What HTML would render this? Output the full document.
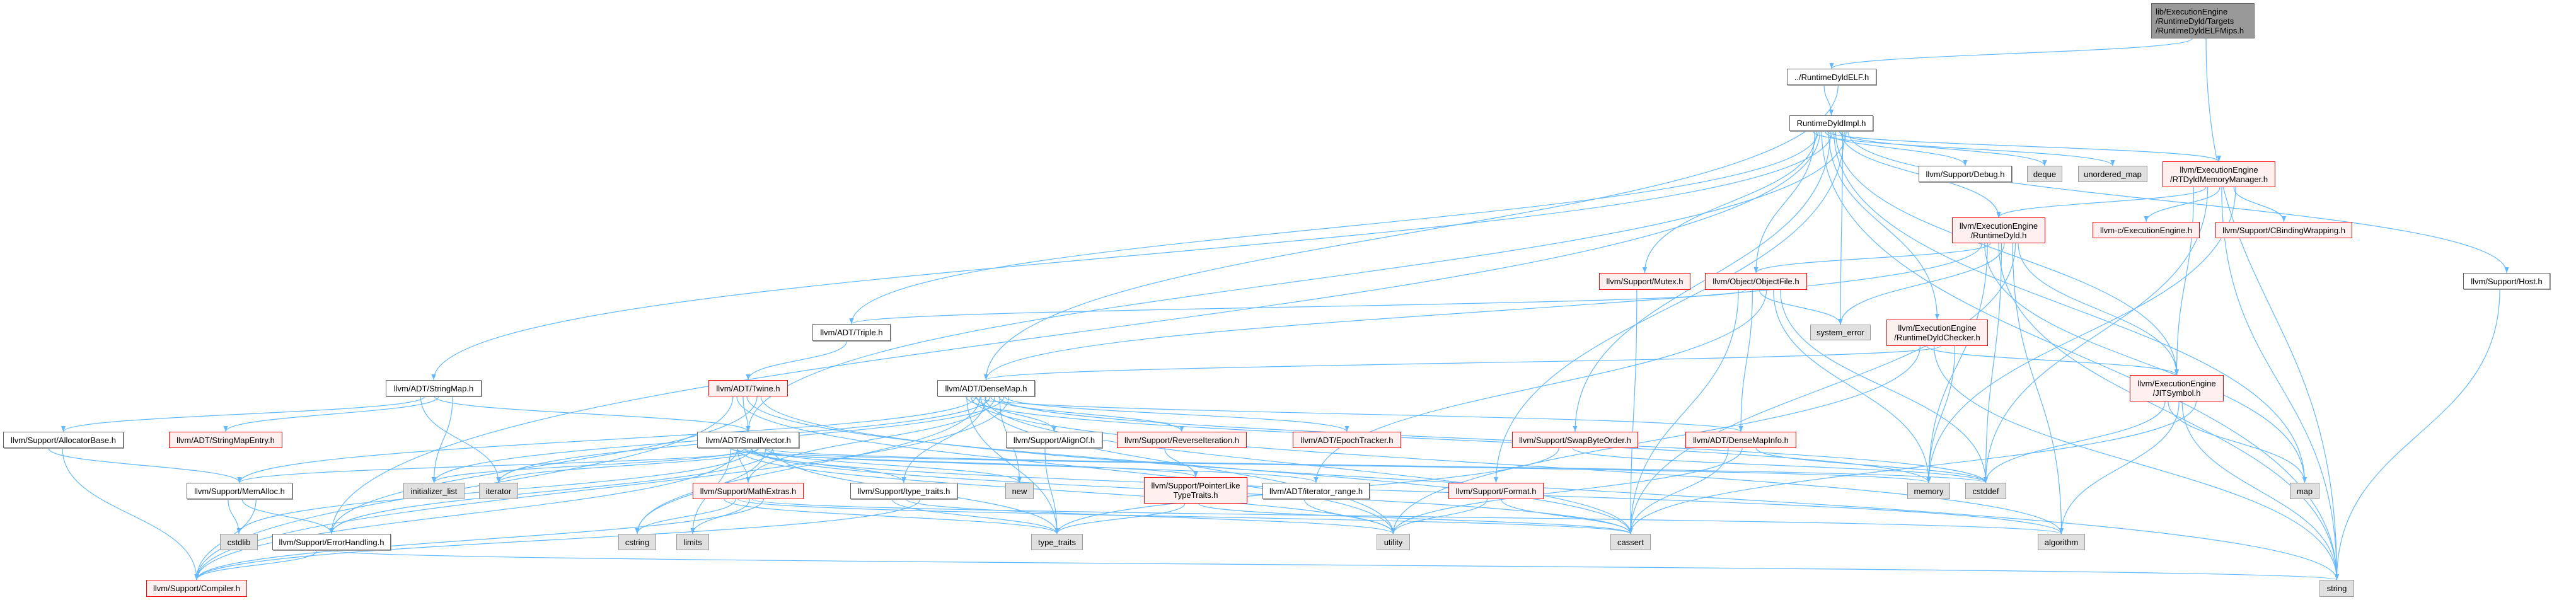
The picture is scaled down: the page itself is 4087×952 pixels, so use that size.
<!DOCTYPE html>
<html><head><meta charset="utf-8">
<style>
html,body{margin:0;padding:0;background:#fff;}
#wrap{position:relative;width:4087px;height:952px;overflow:hidden;background:#fff;}
svg{position:absolute;left:0;top:0;}
.n{position:absolute;box-sizing:border-box;display:flex;align-items:center;justify-content:center;text-align:center;font-family:"Liberation Sans",Arial,sans-serif;font-size:13px;line-height:15px;color:#000;white-space:nowrap;}
.w{background:#fff;border:1px solid #666;box-shadow:1px 1px 0 #999;}
.r{background:#fff0f0;border:1.5px solid #f00;}
.g{background:#e0e0e0;border:1px solid #999;}
.root{background:#999;border:1px solid #666;justify-content:flex-start;text-align:left;padding-left:6px;}
</style></head><body>
<div id="wrap">
<svg id="edges" width="4087" height="952" xmlns="http://www.w3.org/2000/svg">
<defs><marker id="a" viewBox="0 0 10 10" refX="10" refY="5" markerWidth="9" markerHeight="9" orient="auto" markerUnits="userSpaceOnUse"><path d="M0,1 L10,5 L0,9 z" fill="#63b8ff"/></marker></defs>
<g id="eg" fill="none" stroke="#63b8ff" stroke-width="1.2"></g>
</svg>
<div class="n root" style="left:3413px;top:5px;width:164px;height:56px;">lib/ExecutionEngine<br>/RuntimeDyld/Targets<br>/RuntimeDyldELFMips.h</div>
<div class="n w" style="left:2835px;top:109px;width:142px;height:26px;">../RuntimeDyldELF.h</div>
<div class="n w" style="left:2839px;top:183px;width:133px;height:25px;">RuntimeDyldImpl.h</div>
<div class="n w" style="left:3044px;top:263px;width:148px;height:26px;">llvm/Support/Debug.h</div>
<div class="n g" style="left:3216px;top:263px;width:56px;height:26px;">deque</div>
<div class="n g" style="left:3297px;top:263px;width:110px;height:26px;">unordered_map</div>
<div class="n r" style="left:3431px;top:256px;width:179px;height:41px;">llvm/ExecutionEngine<br>/RTDyldMemoryManager.h</div>
<div class="n r" style="left:3097px;top:345px;width:148px;height:41px;">llvm/ExecutionEngine<br>/RuntimeDyld.h</div>
<div class="n r" style="left:3320px;top:352px;width:170px;height:26px;">llvm-c/ExecutionEngine.h</div>
<div class="n r" style="left:3515px;top:352px;width:217px;height:26px;">llvm/Support/CBindingWrapping.h</div>
<div class="n w" style="left:3908px;top:433px;width:138px;height:26px;">llvm/Support/Host.h</div>
<div class="n r" style="left:2537px;top:433px;width:145px;height:27px;">llvm/Support/Mutex.h</div>
<div class="n r" style="left:2705px;top:433px;width:162px;height:27px;">llvm/Object/ObjectFile.h</div>
<div class="n g" style="left:2872px;top:515px;width:96px;height:25px;">system_error</div>
<div class="n r" style="left:2993px;top:507px;width:161px;height:42px;">llvm/ExecutionEngine<br>/RuntimeDyldChecker.h</div>
<div class="n w" style="left:1289px;top:514px;width:124px;height:27px;">llvm/ADT/Triple.h</div>
<div class="n w" style="left:612px;top:603px;width:152px;height:26px;">llvm/ADT/StringMap.h</div>
<div class="n r" style="left:1124px;top:603px;width:126px;height:26px;">llvm/ADT/Twine.h</div>
<div class="n w" style="left:1487px;top:603px;width:155px;height:26px;">llvm/ADT/DenseMap.h</div>
<div class="n r" style="left:3379px;top:595px;width:149px;height:42px;">llvm/ExecutionEngine<br>/JITSymbol.h</div>
<div class="n w" style="left:5px;top:685px;width:191px;height:26px;">llvm/Support/AllocatorBase.h</div>
<div class="n r" style="left:268px;top:685px;width:180px;height:26px;">llvm/ADT/StringMapEntry.h</div>
<div class="n w" style="left:1106px;top:685px;width:162px;height:26px;">llvm/ADT/SmallVector.h</div>
<div class="n w" style="left:1596px;top:685px;width:153px;height:26px;">llvm/Support/AlignOf.h</div>
<div class="n r" style="left:1772px;top:685px;width:206px;height:26px;">llvm/Support/ReverseIteration.h</div>
<div class="n r" style="left:2051px;top:685px;width:172px;height:26px;">llvm/ADT/EpochTracker.h</div>
<div class="n r" style="left:2399px;top:685px;width:200px;height:26px;">llvm/Support/SwapByteOrder.h</div>
<div class="n r" style="left:2674px;top:685px;width:176px;height:26px;">llvm/ADT/DenseMapInfo.h</div>
<div class="n w" style="left:296px;top:766px;width:168px;height:26px;">llvm/Support/MemAlloc.h</div>
<div class="n g" style="left:640px;top:766px;width:97px;height:26px;">initializer_list</div>
<div class="n g" style="left:760px;top:766px;width:62px;height:26px;">iterator</div>
<div class="n r" style="left:1099px;top:766px;width:176px;height:26px;">llvm/Support/MathExtras.h</div>
<div class="n w" style="left:1349px;top:766px;width:170px;height:26px;">llvm/Support/type_traits.h</div>
<div class="n g" style="left:1595px;top:766px;width:45px;height:26px;">new</div>
<div class="n r" style="left:1815px;top:757px;width:164px;height:42px;">llvm/Support/PointerLike<br>TypeTraits.h</div>
<div class="n w" style="left:2003px;top:766px;width:170px;height:26px;">llvm/ADT/iterator_range.h</div>
<div class="n r" style="left:2298px;top:766px;width:151px;height:26px;">llvm/Support/Format.h</div>
<div class="n g" style="left:3026px;top:766px;width:68px;height:26px;">memory</div>
<div class="n g" style="left:3118px;top:766px;width:65px;height:26px;">cstddef</div>
<div class="n g" style="left:3633px;top:766px;width:47px;height:26px;">map</div>
<div class="n g" style="left:349px;top:847px;width:60px;height:26px;">cstdlib</div>
<div class="n w" style="left:432px;top:847px;width:188px;height:26px;">llvm/Support/ErrorHandling.h</div>
<div class="n g" style="left:981px;top:847px;width:60px;height:26px;">cstring</div>
<div class="n g" style="left:1073px;top:847px;width:52px;height:26px;">limits</div>
<div class="n g" style="left:1636px;top:847px;width:82px;height:26px;">type_traits</div>
<div class="n g" style="left:2184px;top:847px;width:53px;height:26px;">utility</div>
<div class="n g" style="left:2555px;top:847px;width:64px;height:26px;">cassert</div>
<div class="n g" style="left:3233px;top:847px;width:75px;height:26px;">algorithm</div>
<div class="n r" style="left:232px;top:920px;width:160px;height:27px;">llvm/Support/Compiler.h</div>
<div class="n g" style="left:3680px;top:920px;width:55px;height:27px;">string</div>
</div>
<script>
var N={root:[3413,3577,5,61],elf:[2835,2977,109,135],impl:[2839,2972,183,208],debug:[3044,3192,263,289],deque:[3216,3272,263,289],umap:[3297,3407,263,289],rtdmm:[3431,3610,256,297],rdyld:[3097,3245,345,386],cee:[3320,3490,352,378],cbw:[3515,3732,352,378],host:[3908,4046,433,459],mutex:[2537,2682,433,460],objf:[2705,2867,433,460],syserr:[2872,2968,515,540],rdc:[2993,3154,507,549],triple:[1289,1413,514,541],strmap:[612,764,603,629],twine:[1124,1250,603,629],dmap:[1487,1642,603,629],jit:[3379,3528,595,637],allocb:[5,196,685,711],sme:[268,448,685,711],svec:[1106,1268,685,711],alignof:[1596,1749,685,711],revit:[1772,1978,685,711],epoch:[2051,2223,685,711],swap:[2399,2599,685,711],dmi:[2674,2850,685,711],memalloc:[296,464,766,792],initl:[640,737,766,792],iter:[760,822,766,792],mathx:[1099,1275,766,792],tth:[1349,1519,766,792],"new":[1595,1640,766,792],plt:[1815,1979,757,799],itr:[2003,2173,766,792],format:[2298,2449,766,792],memory:[3026,3094,766,792],cstddef:[3118,3183,766,792],map:[3633,3680,766,792],cstdlib:[349,409,847,873],errh:[432,620,847,873],cstring:[981,1041,847,873],limits:[1073,1125,847,873],tt:[1636,1718,847,873],utility:[2184,2237,847,873],cassert:[2555,2619,847,873],algo:[3233,3308,847,873],compiler:[232,392,920,947],string:[3680,3735,920,947]};
var E=[["root","elf"],["root","string"],["elf","impl"],["elf","dmap"],
["impl","debug"],["impl","deque"],["impl","umap"],["impl","rtdmm"],["impl","rdyld"],["impl","objf"],["impl","rdc"],["impl","syserr"],["impl","mutex"],["impl","swap"],["impl","format"],["impl","triple"],["impl","strmap"],["impl","svec"],["impl","errh"],["impl","map"],["impl","host"],["impl","string"],["impl","jit"],
["rtdmm","rdyld"],["rtdmm","cee"],["rtdmm","cbw"],["rtdmm","jit"],["rtdmm","cstddef"],["rtdmm","string"],["rtdmm","memory"],
["rdyld","objf"],["rdyld","syserr"],["rdyld","jit"],["rdyld","memory"],["rdyld","cstddef"],["rdyld","cassert"],["rdyld","map"],["rdyld","string"],["rdyld","algo"],["rdyld","dmap"],
["objf","triple"],["objf","syserr"],["objf","memory"],["objf","cassert"],["objf","dmi"],["objf","itr"],["objf","cstddef"],
["rdc","jit"],["rdc","dmap"],["rdc","memory"],["rdc","utility"],["rdc","string"],
["jit","map"],["jit","string"],["jit","cassert"],["jit","cstddef"],["jit","algo"],
["mutex","cassert"],["triple","twine"],
["twine","svec"],["twine","errh"],["twine","compiler"],["twine","cassert"],["twine","string"],["twine","utility"],
["strmap","allocb"],["strmap","sme"],["strmap","initl"],["strmap","iter"],["strmap","svec"],
["allocb","memalloc"],["allocb","compiler"],["memalloc","cstdlib"],["memalloc","errh"],["memalloc","compiler"],["errh","compiler"],["errh","string"],
["dmap","alignof"],["dmap","revit"],["dmap","epoch"],["dmap","dmi"],["dmap","tth"],["dmap","new"],["dmap","tt"],["dmap","utility"],["dmap","mathx"],["dmap","compiler"],["dmap","memalloc"],["dmap","initl"],["dmap","iter"],["dmap","algo"],["dmap","cassert"],["dmap","cstddef"],["dmap","memory"],["dmap","cstring"],
["svec","mathx"],["svec","tth"],["svec","new"],["svec","plt"],["svec","itr"],["svec","memalloc"],["svec","errh"],["svec","compiler"],["svec","cstdlib"],["svec","cstring"],["svec","limits"],["svec","initl"],["svec","iter"],["svec","tt"],["svec","utility"],["svec","cassert"],["svec","cstddef"],["svec","memory"],["svec","algo"],
["mathx","cstring"],["mathx","limits"],["mathx","compiler"],["mathx","tt"],["mathx","cassert"],["mathx","algo"],
["tth","tt"],["tth","utility"],["tth","compiler"],["alignof","tt"],["revit","plt"],["plt","tt"],["plt","cassert"],["itr","utility"],
["swap","tt"],["swap","cstddef"],["dmi","cassert"],["dmi","utility"],["dmi","cstddef"],["format","utility"],["format","cassert"],["host","string"]];
var g=document.getElementById("eg"),cnt={},s="";
E.forEach(function(e){var a=N[e[0]],b=N[e[1]];
 cnt[e[0]]=(cnt[e[0]]||0)+1;
 var ax=(a[0]+a[1])/2,bx=(b[0]+b[1])/2,d;
 var w=a[1]-a[0];var off=((cnt[e[0]]*37)%Math.max(10,w*0.8))-w*0.4;
 if(b[2]>a[3]+2){var sx=ax+off*0.6,sy=a[3],tx=bx,ty=b[2];var m=(ty-sy)*0.5;
  d="M"+sx+","+sy+" C"+sx+","+(sy+m)+" "+tx+","+(ty-m)+" "+tx+","+ty;}
 else{var sx,tx; if(bx<ax){sx=a[0];tx=b[1];}else{sx=a[1];tx=b[0];}var sy=(a[2]+a[3])/2,ty=(b[2]+b[3])/2;var m=(tx-sx)*0.5;
  d="M"+sx+","+sy+" C"+(sx+m)+","+sy+" "+(tx-m)+","+ty+" "+tx+","+ty;}
 s+='<path d="'+d+'" marker-end="url(#a)"/>';});
g.innerHTML=s;
</script>
</body></html>
